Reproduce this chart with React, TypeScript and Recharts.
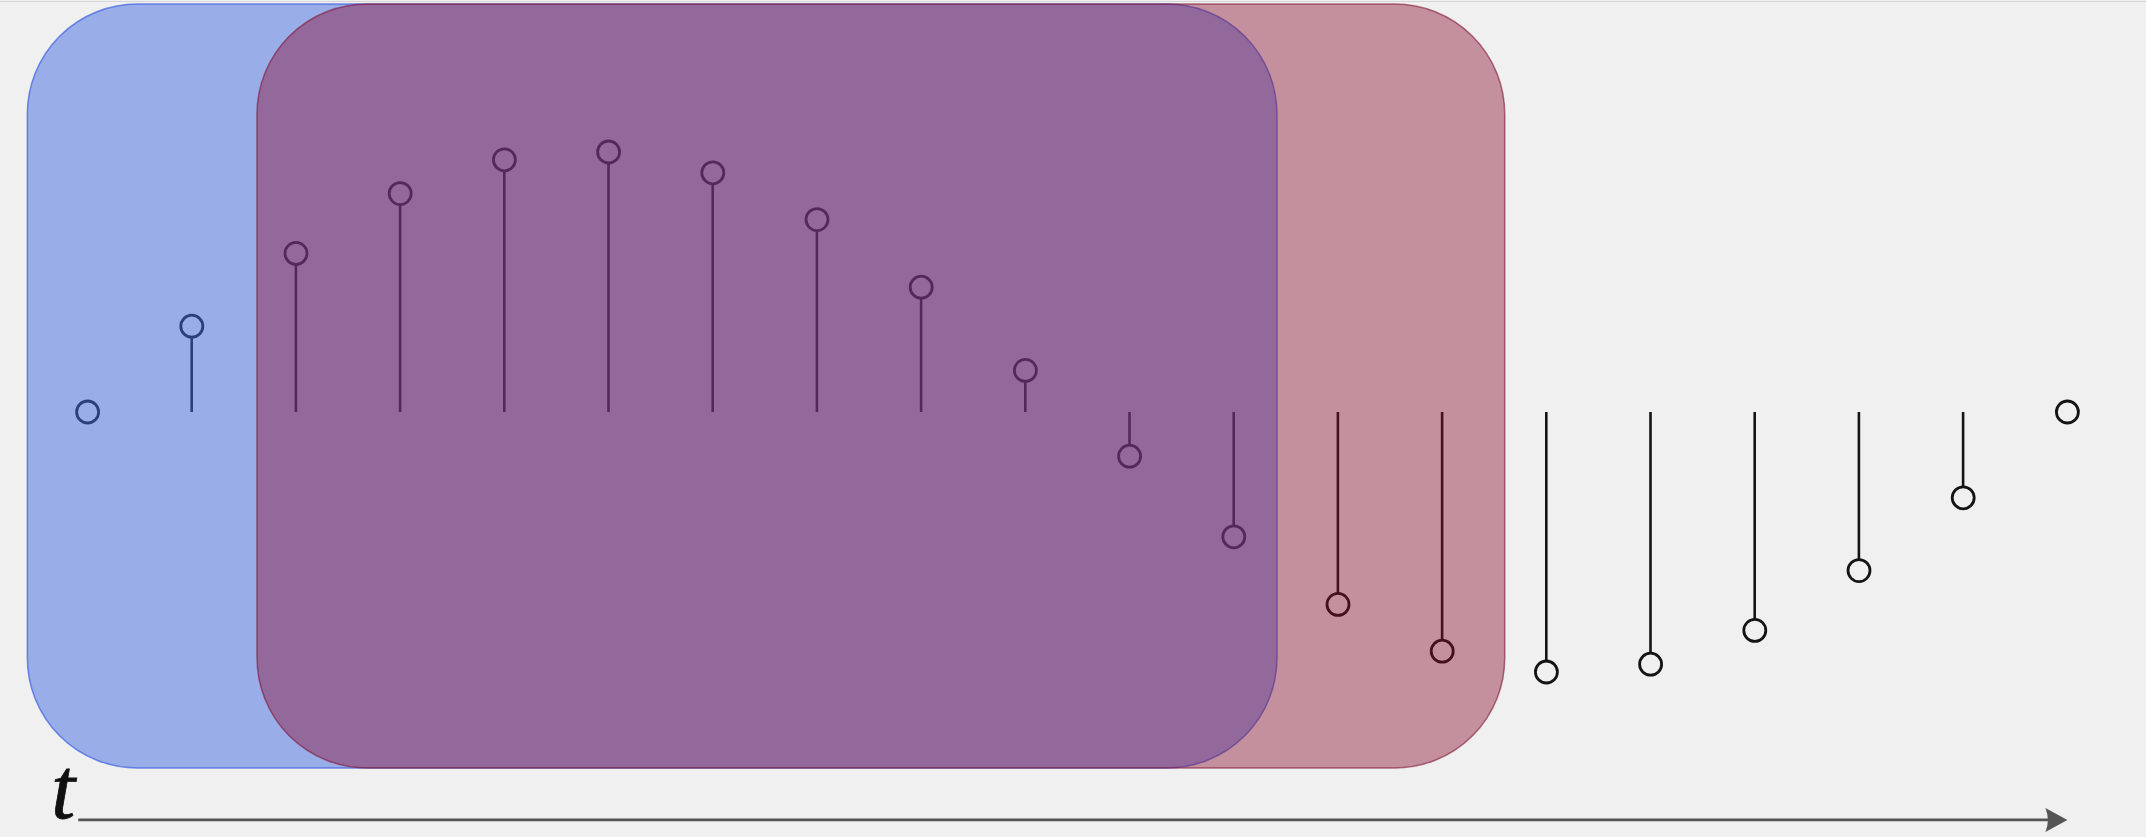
import React from 'react';
import { ComposedChart, XAxis, YAxis, Bar, Scatter, ReferenceArea, ReferenceLine } from 'recharts';

// sample index (time) and sample values
const sampleIndex = [0, 1, 2, 3, 4, 5, 6, 7, 8, 9, 10, 11, 12, 13, 14, 15, 16, 17, 18, 19];
const sampleValues = [0, 0.33, 0.61, 0.84, 0.97, 1.0, 0.92, 0.74, 0.48, 0.16, -0.17, -0.48, -0.74, -0.92, -1.0, -0.97, -0.84, -0.61, -0.33, 0];

// two sliding windows (in sample / value units)
const windowBlue = { x1: -0.578, x2: 11.414, y1: -1.369, y2: 1.569 };
const windowRed = { x1: 1.626, x2: 13.6, y1: -1.369, y2: 1.569 };

// time axis arrow (in sample / value units)
const axisStart = { x: -0.09, y: -1.569 };
const axisEnd = { x: 19, y: -1.569 };
const axisLabel = 't';

const data = sampleIndex.map((t, i) => ({ t, v: sampleValues[i] }));

const BG = '#f0f0f0';
const INK = '#141414';

const Stem = (props: any) => {
  const { x, y, width, height } = props;
  if (x == null || y == null) return null;
  const cx = x + width / 2;
  return <line x1={cx} x2={cx} y1={y} y2={y + (height || 0)} stroke={INK} strokeWidth={2.6} />;
};

const Dot = (props: any) => {
  const { cx, cy } = props;
  if (cx == null || cy == null) return null;
  return <circle cx={cx} cy={cy} r={11} fill={BG} stroke={INK} strokeWidth={2.8} />;
};

const RoundRect = (props: any) => {
  const { x, y, width, height, fill, stroke } = props;
  return <rect x={x} y={y} width={width} height={height} rx={110} ry={110} fill={fill} stroke={stroke} strokeWidth={1.5} />;
};

const Arrow = (props: any) => {
  const { x1, y1, x2, y2 } = props;
  return (
    <g>
      <line x1={x1} y1={y1} x2={x2 - 14} y2={y2} stroke="#555555" strokeWidth={2.8} />
      <path d={`M ${x2} ${y2} L ${x2 - 22} ${y2 - 12} Q ${x2 - 17} ${y2} ${x2 - 22} ${y2 + 12} Z`} fill="#555555" />
      <text
        x={x1 - 27}
        y={y1 - 2}
        fontSize={86}
        fontStyle="italic"
        fontFamily="'Liberation Serif', 'DejaVu Serif', serif"
        fill="#111"
        stroke="#111"
        strokeWidth={0.8}
      >
        {axisLabel}
      </text>
    </g>
  );
};

export default function App() {
  return (
    <div style={{ position: 'fixed', left: 0, top: 0, width: 2146, height: 837, background: BG, overflow: 'hidden' }}>
      <div style={{ position: 'absolute', left: 0, top: 1, width: 2146, height: 1, background: '#d6d6d6' }} />
      <ComposedChart width={2146} height={837} data={data} margin={{ top: 0, right: 0, bottom: 0, left: 0 }}>
        <XAxis dataKey="t" type="number" domain={[-0.8407, 19.7543]} hide allowDataOverflow />
        <YAxis type="number" domain={[-1.6346, 1.5846]} hide allowDataOverflow />
        <Bar dataKey="v" barSize={4} shape={<Stem />} isAnimationActive={false} />
        <Scatter dataKey="v" shape={<Dot />} isAnimationActive={false} />
        <ReferenceArea
          {...windowBlue}
          ifOverflow="visible"
          fill="rgba(65,105,225,0.5)"
          stroke="rgba(70,100,225,0.75)"
          fillOpacity={1}
          shape={<RoundRect />}
          zIndex={1500}
        />
        <ReferenceArea
          {...windowRed}
          ifOverflow="visible"
          fill="rgba(136,12,45,0.42)"
          stroke="rgba(130,20,50,0.6)"
          fillOpacity={1}
          shape={<RoundRect />}
          zIndex={1600}
        />
        <ReferenceLine segment={[axisStart, axisEnd]} ifOverflow="visible" shape={<Arrow />} zIndex={1700} />
      </ComposedChart>
    </div>
  );
}
